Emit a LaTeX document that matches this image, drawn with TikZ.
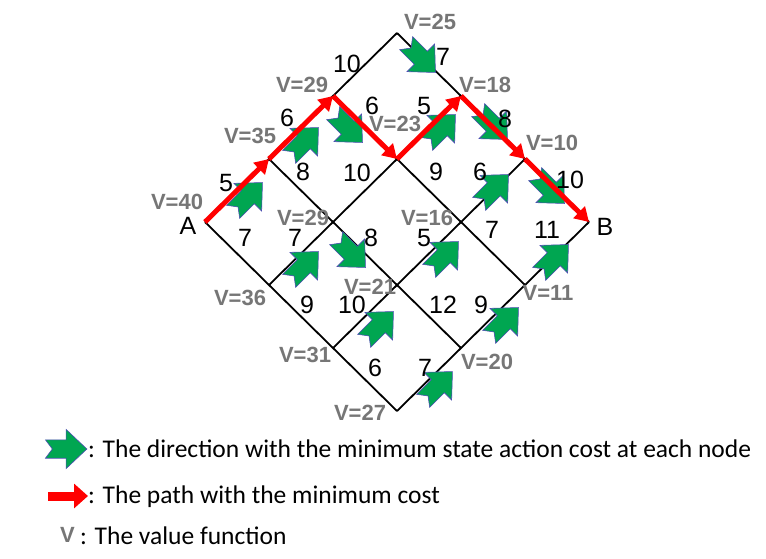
\documentclass[tikz,border=0pt]{standalone}
\usepackage{fontspec}
\setmainfont{Liberation Sans}
\newfontfamily\legendfont{Carlito}
\usetikzlibrary{arrows.meta}

\definecolor{arrowgreen}{RGB}{0,166,81}
\definecolor{valgray}{RGB}{118,118,118}

% green block arrow at a point, turned by an angle
\newcommand{\garrow}[2]{%
  \fill[arrowgreen, draw=blue!40!gray, line width=0.6pt, shift={(#1)}, rotate=#2, scale=1.15]
    (-17,-8) -- (1,-8) -- (1,-17) -- (19,0) -- (1,17) -- (1,8) -- (-17,8) -- (-11,0) -- cycle;}

\begin{document}
\begin{tikzpicture}[
    x=1pt, y=-1pt,
    % Styles
    grid/.style={line width=1.8pt, black},
    redpath/.style={line width=5pt, red, -{Triangle[length=14pt, width=16pt]}},
    cost/.style={font=\fontsize{25}{25}\selectfont, inner sep=0pt},
    val/.style={font=\fontsize{22}{22}\selectfont\bfseries, text=valgray, inner sep=0pt},
    endlabel/.style={font=\fontsize{25}{25}\selectfont, inner sep=0pt},
    legend/.style={font=\legendfont\fontsize{25.5}{25.5}\selectfont, anchor=west, inner sep=0pt}
]
\useasboundingbox (0,0) rectangle (766,558);

% Grid nodes
\foreach \i in {0,...,3}
  \foreach \j in {0,...,3}
    \coordinate (n-\i-\j) at ({205+64*\i+64*\j},{222-63*\i+63*\j});

% Grid lines
\foreach \j in {0,...,3}
  \draw[grid] (n-0-\j) -- (n-3-\j);
\foreach \i in {0,...,3}
  \draw[grid] (n-\i-0) -- (n-\i-3);

% Green arrows
\garrow{247,198}{45}
\garrow{303,143}{45}
\garrow{347,127}{-45}
\garrow{420,57}{-45}
\garrow{440,130}{45}
\garrow{492,124}{-45}
\garrow{493,190}{45}
\garrow{549,188}{-45}
\garrow{350,252}{-45}
\garrow{303,267}{45}
\garrow{443,257}{45}
\garrow{378,327}{45}
\garrow{437,387}{45}
\garrow{503,323}{45}
\garrow{553,260}{45}

% Red path
\draw[redpath] (n-0-0) -- (n-1-0);
\draw[redpath] (n-1-0) -- (n-2-0);
\draw[redpath] (n-2-0) -- (n-2-1);
\draw[redpath] (n-2-1) -- (n-3-1);
\draw[redpath] (n-3-1) -- (n-3-2);
\draw[redpath] (n-3-2) -- (n-3-3);

% Costs
\node[cost] (c1) at (226,183) {5};
\node[cost] (c2) at (287,118) {6};
\node[cost] (c3) at (347,64) {10};
\node[cost] (c4) at (295,238) {7};
\node[cost] (c5) at (357,173) {10};
\node[cost] (c6) at (424,106) {5};
\node[cost] (c7) at (352,305) {10};
\node[cost] (c8) at (424,238) {5};
\node[cost] (c9) at (480,172) {6};
\node[cost] (c10) at (425,368) {7};
\node[cost] (c11) at (481,305) {9};
\node[cost] (c12) at (547,230) {11};
\node[cost] (c13) at (245,238) {7};
\node[cost] (c14) at (307,305) {9};
\node[cost] (c15) at (375,368) {6};
\node[cost] (c16) at (303,172) {8};
\node[cost] (c17) at (371,238) {8};
\node[cost] (c18) at (443,305) {12};
\node[cost] (c19) at (372,106) {6};
\node[cost] (c20) at (436,172) {9};
\node[cost] (c21) at (492,230) {7};
\node[cost] (c22) at (443,57) {7};
\node[cost] (c23) at (505,119) {8};
\node[cost] (c24) at (570,180) {10};

% Values
\node[val] (v40) at (177,202) {V=40};
\node[val] (v35) at (250,136) {V=35};
\node[val] (v29a) at (302,85) {V=29};
\node[val] (v25) at (430,22) {V=25};
\node[val] (v36) at (240,298) {V=36};
\node[val] (v29b) at (303,218) {V=29};
\node[val] (v23) at (395,124) {V=23};
\node[val] (v18) at (485,85) {V=18};
\node[val] (v31) at (305,355) {V=31};
\node[val] (v21) at (370,287) {V=21};
\node[val] (v16) at (427,218) {V=16};
\node[val] (v10) at (552,143) {V=10};
\node[val] (v27) at (360,413) {V=27};
\node[val] (v20) at (487,362) {V=20};
\node[val] (v11) at (548,293) {V=11};
\node[endlabel] (lA) at (188,226) {A};
\node[endlabel] (lB) at (605,227) {B};

% Legend
\garrow{65,449}{0}
\draw[line width=9pt, red, -{Triangle[length=14pt, width=24pt]}] (48,496) -- (88,496);
\node[legend] (t1) at (88,449) {: The direction with the minimum state action cost at each node};
\node[legend] (t2) at (88,497) {: The path with the minimum cost};
\node[val, anchor=west] (tv) at (60,535) {V};
\node[legend] (t3) at (80,536) {: The value function};
\end{tikzpicture}
\end{document}
